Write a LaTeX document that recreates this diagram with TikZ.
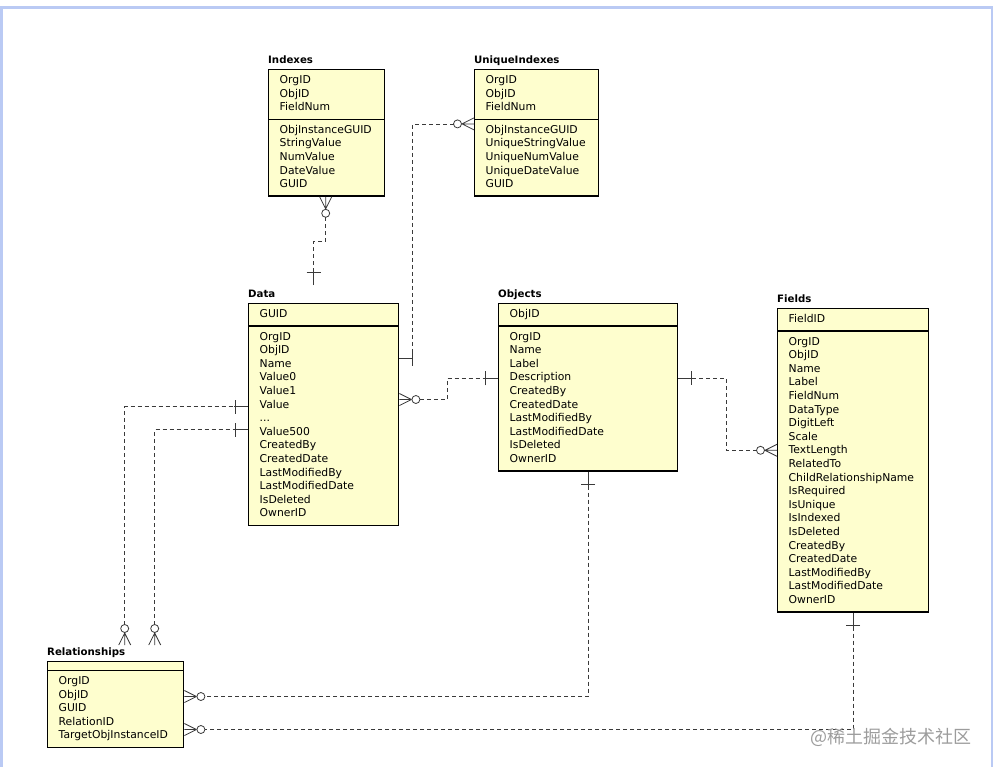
\documentclass[tikz,border=0pt]{standalone}
\usepackage{fontspec}
\setmainfont{DejaVu Sans}
\newfontfamily\cjkfont{Noto Sans CJK SC}
\usetikzlibrary{shapes.multipart, calc}
\definecolor{tablefill}{HTML}{FEFECE}
\definecolor{linkgray}{HTML}{3A3A3A}
\definecolor{frameblue}{HTML}{BACAF4}
\definecolor{markgray}{HTML}{9C9C9C}
\tikzstyle{entitybase} = [
  rectangle split, rectangle split parts=2,
  draw=black, line width=1.4pt, fill=tablefill,
  inner xsep=11pt, inner ysep=3.7pt, align=left,
  font=\fontsize{10.8}{13.6}\selectfont,
  anchor=north west
]
\tikzstyle{entity} = [
  entitybase,
  execute at begin node=\strut, execute at end node=\strut
]
\tikzstyle{entitytitle} = [
  inner sep=0pt, anchor=base west,
  font=\fontsize{10.2}{12}\selectfont\bfseries
]
\tikzstyle{link} = [
  line width=0.8pt, color=linkgray, dash pattern=on 4pt off 3pt
]
\tikzset{
  crowsfoot/.pic={
    \draw[line width=0.8pt, color=linkgray]
      (0,-6) -- (12,0) (0,0) -- (12,0) (0,6) -- (12,0);
    \draw[line width=0.8pt, color=linkgray, fill=white] (16.5,0) circle[radius=4pt];
  },
  onebar/.pic={
    \draw[line width=0.8pt, color=linkgray] (0,0) -- (14,0) (13,-7) -- (13,7);
  }
}
\begin{document}
\begin{tikzpicture}[x=1pt, y=-1pt]
  \useasboundingbox (0,0) rectangle (996,766);
  \draw[frameblue, line width=2.5pt] (1.5,780) -- (1.5,7.5) -- (992,7.5) -- (992,780);

  % -- Indexes ------------------------------------------
  \node[entity, text width=94pt] (indexes) at (268,69)
    {OrgID\\ObjID\\FieldNum
     \nodepart{two} ObjInstanceGUID\\StringValue\\NumValue\\DateValue\\GUID};
  \node[entitytitle] (indexes-title) at ([yshift=6pt]indexes.north west) {Indexes};

  % -- UniqueIndexes ------------------------------------
  \node[entity, text width=102pt] (uniq) at (474,69)
    {OrgID\\ObjID\\FieldNum
     \nodepart{two} ObjInstanceGUID\\UniqueStringValue\\UniqueNumValue\\UniqueDateValue\\GUID};
  \node[entitytitle] (uniq-title) at ([yshift=6pt]uniq.north west) {UniqueIndexes};

  % -- Data ---------------------------------------------
  \node[entity, text width=128pt] (data) at (248,303)
    {GUID
     \nodepart{two} OrgID\\ObjID\\Name\\Value0\\Value1\\Value\\...\\Value500\\CreatedBy\\CreatedDate\\LastModifiedBy\\LastModifiedDate\\IsDeleted\\OwnerID};
  \node[entitytitle] (data-title) at ([yshift=6pt]data.north west) {Data};

  % -- Objects ------------------------------------------
  \node[entity, text width=157pt] (objects) at (498,303)
    {ObjID
     \nodepart{two} OrgID\\Name\\Label\\Description\\CreatedBy\\CreatedDate\\LastModifiedBy\\LastModifiedDate\\IsDeleted\\OwnerID};
  \node[entitytitle] (objects-title) at ([yshift=6pt]objects.north west) {Objects};

  % -- Fields -------------------------------------------
  \node[entity, text width=129pt] (fields) at (777,308)
    {FieldID
     \nodepart{two} OrgID\\ObjID\\Name\\Label\\FieldNum\\DataType\\DigitLeft\\Scale\\TextLength\\RelatedTo\\ChildRelationshipName\\IsRequired\\IsUnique\\IsIndexed\\IsDeleted\\CreatedBy\\CreatedDate\\LastModifiedBy\\LastModifiedDate\\OwnerID};
  \node[entitytitle] (fields-title) at ([yshift=6pt]fields.north west) {Fields};

  % -- Relationships ------------------------------------
  \node[entitybase, text width=114pt,
        rectangle split empty part height=0pt, rectangle split empty part depth=0pt]
    (relationships) at (47,661)
    {\nodepart{two}\strut OrgID\\ObjID\\GUID\\RelationID\\TargetObjInstanceID\strut};
  \node[entitytitle] (relationships-title) at ([yshift=6pt]relationships.north west) {Relationships};

  % -- Links --------------------------------------------
  \coordinate (ix-a) at ([xshift=-1pt]indexes.south);
  \coordinate (ix-b) at ([xshift=-10pt,yshift=18pt]data.north);
  \pic[rotate=-90] at (ix-a) {crowsfoot};
  \pic[rotate=90] at (ix-b) {onebar};
  \draw[link] ([yshift=-20.5pt]ix-a) -- ++(0,24.5) -| ([yshift=13pt]ix-b);

  \coordinate (uq-a) at ([yshift=9pt]uniq.west);
  \coordinate (uq-b) at ([yshift=56pt]data.east);
  \pic[rotate=180] at (uq-a) {crowsfoot};
  \pic at (uq-b) {onebar};
  \draw[link] ([xshift=-20.5pt]uq-a) -| ([xshift=13pt]uq-b);

  \coordinate (do-a) at ([yshift=15pt]data.east);
  \coordinate (do-b) at ([yshift=9pt]objects.west);
  \pic at (do-a) {crowsfoot};
  \pic[rotate=180] at (do-b) {onebar};
  \draw[link] ([xshift=20.5pt]do-a) -- ++(27.5,0) |- ([xshift=-14pt]do-b);

  \coordinate (of-a) at ([yshift=9pt]objects.east);
  \coordinate (of-b) at ([yshift=10pt]fields.west);
  \pic at (of-a) {onebar};
  \pic[rotate=180] at (of-b) {crowsfoot};
  \draw[link] ([xshift=14pt]of-a) -- ++(34,0) |- ([xshift=-20.5pt]of-b);

  \coordinate (or-a) at (objects.south);
  \coordinate (or-b) at ([yshift=8pt]relationships.east);
  \pic[rotate=-90] at (or-a) {onebar};
  \pic at (or-b) {crowsfoot};
  \draw[link] ([yshift=-14pt]or-a) |- ([xshift=20.5pt]or-b);

  \coordinate (fr-a) at (fields.south);
  \coordinate (fr-b) at ([yshift=-25pt]relationships.east);
  \pic[rotate=-90] at (fr-a) {onebar};
  \pic at (fr-b) {crowsfoot};
  \draw[link] ([yshift=-14pt]fr-a) |- ([xshift=20.5pt]fr-b);

  \coordinate (rd-a) at ([xshift=9pt,yshift=16pt]relationships.north);
  \coordinate (rd-b) at ([yshift=8pt]data.west);
  \pic[rotate=90] at (rd-a) {crowsfoot};
  \pic[rotate=180] at (rd-b) {onebar};
  \draw[link] ([yshift=20.5pt]rd-a) |- ([xshift=-14pt]rd-b);

  \coordinate (rd-c) at ([xshift=39pt,yshift=16pt]relationships.north);
  \coordinate (rd-d) at ([yshift=-15pt]data.west);
  \pic[rotate=90] at (rd-c) {crowsfoot};
  \pic[rotate=180] at (rd-d) {onebar};
  \draw[link] ([yshift=20.5pt]rd-c) |- ([xshift=-14pt]rd-d);

  \node[font=\cjkfont\fontsize{18}{18}\selectfont, text=markgray, anchor=east]
    (site-mark) at (975,737) {@稀土掘金技术社区};
\end{tikzpicture}
\end{document}
